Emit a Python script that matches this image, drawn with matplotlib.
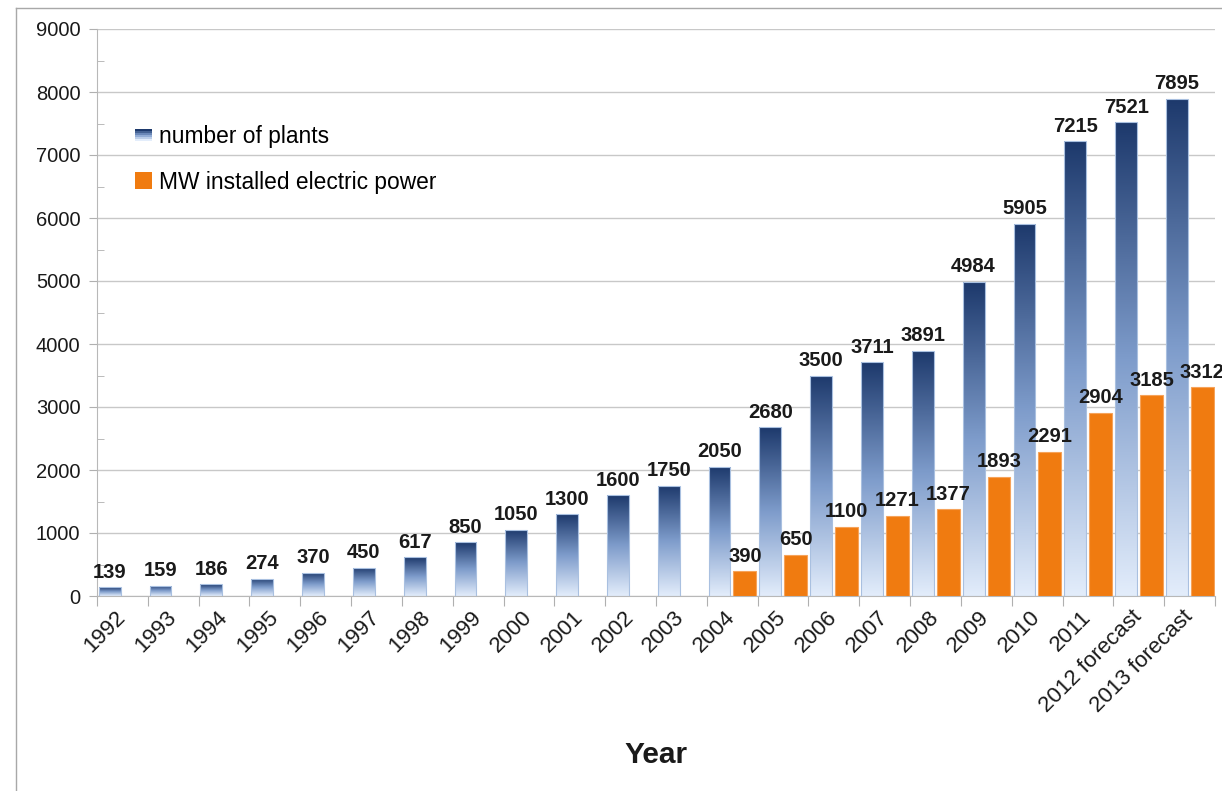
import numpy as np
import matplotlib
matplotlib.use('Agg')
import matplotlib.pyplot as plt
from matplotlib.colors import LinearSegmentedColormap
from matplotlib.patches import Rectangle
from matplotlib.legend_handler import HandlerBase
from matplotlib.lines import Line2D

plt.rcParams['font.family'] = ['Liberation Sans', 'DejaVu Sans']

years = ['1992', '1993', '1994', '1995', '1996', '1997', '1998', '1999', '2000',
         '2001', '2002', '2003', '2004', '2005', '2006', '2007', '2008', '2009',
         '2010', '2011', '2012 forecast', '2013 forecast']
plants = [139, 159, 186, 274, 370, 450, 617, 850, 1050, 1300, 1600, 1750, 2050,
          2680, 3500, 3711, 3891, 4984, 5905, 7215, 7521, 7895]
mw_years = ['2004', '2005', '2006', '2007', '2008', '2009', '2010', '2011',
            '2012 forecast', '2013 forecast']
mw_power = [390, 650, 1100, 1271, 1377, 1893, 2291, 2904, 3185, 3312]

blue_grad = LinearSegmentedColormap.from_list('plants', ['#E3EDFB', '#7E9CCB', '#1D396C'])
orange = '#F07B10'


class GradientHandler(HandlerBase):
    # legend key drawn as a few horizontal strips, dark on top
    def create_artists(self, legend, orig_handle, xdescent, ydescent,
                       width, height, fontsize, trans):
        n = 6
        arts = []
        h = height * 0.75
        for k in range(n):
            c = blue_grad(k / (n - 1))
            r = Rectangle((-xdescent, -ydescent + (height - h) / 2 + h * k / n), width, h / n,
                          facecolor=c, edgecolor='none', transform=trans)
            arts.append(r)
        return arts


fig = plt.figure(figsize=(12.22, 7.91), dpi=100)
ax = fig.add_axes([97 / 1222, 1 - 596 / 791, (1215 - 97) / 1222, (596 - 29) / 791])

x = np.arange(len(years))
xm = np.array([years.index(y) for y in mw_years])

bars = ax.bar(x - 0.25, plants, width=0.43, color='none', edgecolor='#A9C0E0',
              linewidth=0.8, zorder=3)
grad = np.linspace(0, 1, 256).reshape(-1, 1)
for b in bars:
    x0, y0 = b.get_x(), b.get_y()
    im = ax.imshow(grad, cmap=blue_grad, origin='lower', aspect='auto',
                   extent=[x0, x0 + b.get_width(), y0, y0 + b.get_height()],
                   zorder=2.5)
    im.set_clip_path(b)

ax.bar(xm + 0.25, mw_power, width=0.45, color=orange, edgecolor='#F6A35A',
       linewidth=0.8, zorder=3)

for xi, v in zip(x - 0.25, plants):
    ax.annotate(str(v), (xi, v), xytext=(0, 4), textcoords='offset points',
                ha='center', va='bottom', fontsize=14.5, fontweight='bold',
                color='#1a1a1a', zorder=5)
for xi, v in zip(xm + 0.25, mw_power):
    ax.annotate(str(v), (xi, v), xytext=(0, 4), textcoords='offset points',
                ha='center', va='bottom', fontsize=14.5, fontweight='bold',
                color='#1a1a1a', zorder=5, annotation_clip=False)

ax.set_xlim(-0.5, len(years) - 0.5)
ax.set_ylim(0, 9000)

ax.set_yticks(np.arange(0, 9001, 1000))
ax.set_yticks(np.arange(500, 9000, 1000), minor=True)
ax.tick_params(axis='y', which='major', length=6, color='#B0B0B0', labelsize=14.5,
               labelcolor='#1a1a1a', pad=6)
ax.tick_params(axis='y', which='minor', direction='in', length=5, color='#B0B0B0')
ax.grid(axis='y', which='major', color='#C8C8C8', linewidth=1, zorder=0)
ax.set_axisbelow(True)

ax.set_xticks(np.arange(-0.5, len(years), 1))
ax.set_xticklabels([])
ax.set_xticks(x, minor=True)
ax.set_xticklabels(years, minor=True, rotation=45, ha='right', va='center',
                   rotation_mode='anchor', fontsize=16, color='#1a1a1a')
ax.tick_params(axis='x', which='major', length=7, color='#B0B0B0')
ax.tick_params(axis='x', which='minor', length=0, pad=13)

for s in ['top', 'right']:
    ax.spines[s].set_visible(False)
ax.spines['left'].set_color('#B8B8B8')
ax.spines['bottom'].set_color('#B8B8B8')

handles = [Rectangle((0, 0), 1, 1), Rectangle((0, 0), 1, 1, facecolor=orange)]
ax.legend(handles, ['number of plants', 'MW installed electric power'],
          handler_map={handles[0]: GradientHandler()},
          loc='upper left', bbox_to_anchor=(135 / 1222, 1 - 125 / 791),
          bbox_transform=fig.transFigure, frameon=False, fontsize=16.4,
          borderpad=0, borderaxespad=0,
          handlelength=0.75, handleheight=0.75, handletextpad=0.3, labelspacing=1.0)

fig.text(656 / 1222, 1 - 755 / 791, 'Year', ha='center', va='center',
         fontsize=21.5, fontweight='bold', color='#1a1a1a')

# thin frame around the chart area
fig.add_artist(Line2D([16 / 1222, 16 / 1222], [0, 1 - 8 / 791], transform=fig.transFigure,
                      color='#A8A8A8', linewidth=1))
fig.add_artist(Line2D([16 / 1222, 1], [1 - 8 / 791, 1 - 8 / 791], transform=fig.transFigure,
                      color='#A8A8A8', linewidth=1))

fig.savefig('out.png', dpi=100)
